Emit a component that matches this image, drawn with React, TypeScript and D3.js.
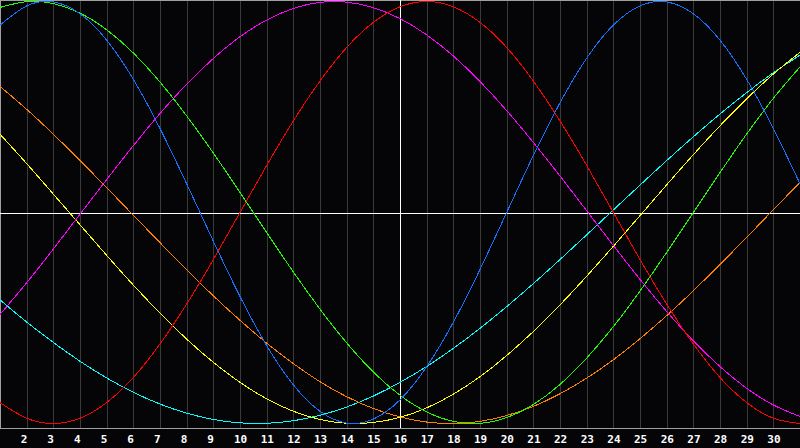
import React, { useEffect, useRef } from 'react';
import * as d3 from 'd3';

// days of the month shown on the chart
const days = d3.range(1, 32);
const tickDays = d3.range(2, 31);
const today = 16;

// cycle values per day (-1 .. 1)
const physical = [0.888, 0.979, 0.998, 0.942, 0.817, 0.631, 0.398, 0.136, -0.136, -0.398, -0.631, -0.817, -0.942, -0.998, -0.979, -0.888, -0.731, -0.52, -0.27, 0, 0.27, 0.52, 0.731, 0.888, 0.979, 0.998, 0.942, 0.817, 0.631, 0.398, 0.136];
const emotional = [-0.901, -0.975, -1, -0.975, -0.901, -0.782, -0.623, -0.434, -0.223, 0, 0.223, 0.434, 0.623, 0.782, 0.901, 0.975, 1, 0.975, 0.901, 0.782, 0.623, 0.434, 0.223, 0, -0.223, -0.434, -0.623, -0.782, -0.901, -0.975, -1];
const intellectual = [0.972, 0.999, 0.99, 0.945, 0.866, 0.756, 0.618, 0.458, 0.282, 0.095, -0.095, -0.282, -0.458, -0.618, -0.756, -0.866, -0.945, -0.99, -0.999, -0.972, -0.91, -0.815, -0.69, -0.541, -0.372, -0.189, 0, 0.189, 0.372, 0.541, 0.69];
const intuitive = [-0.483, -0.333, -0.173, -0.008, 0.156, 0.317, 0.469, 0.608, 0.73, 0.833, 0.912, 0.967, 0.996, 0.997, 0.971, 0.919, 0.842, 0.742, 0.621, 0.483, 0.332, 0.173, 0.008, -0.156, -0.317, -0.469, -0.608, -0.73, -0.833, -0.912, -0.967];
const aesthetic = [0.371, 0.232, 0.087, -0.058, -0.203, -0.344, -0.477, -0.6, -0.71, -0.805, -0.883, -0.942, -0.981, -0.999, -0.995, -0.971, -0.926, -0.861, -0.778, -0.678, -0.564, -0.438, -0.302, -0.16, -0.015, 0.131, 0.274, 0.411, 0.539, 0.656, 0.759];
const awareness = [0.598, 0.489, 0.371, 0.246, 0.118, -0.013, -0.143, -0.271, -0.395, -0.511, -0.619, -0.716, -0.802, -0.873, -0.929, -0.969, -0.993, -1, -0.99, -0.962, -0.919, -0.859, -0.785, -0.698, -0.598, -0.489, -0.371, -0.246, -0.118, 0.013, 0.143];
const spiritual = [-0.414, -0.519, -0.616, -0.705, -0.784, -0.852, -0.908, -0.951, -0.981, -0.997, -0.999, -0.987, -0.961, -0.922, -0.87, -0.805, -0.73, -0.644, -0.549, -0.446, -0.337, -0.223, -0.106, 0.012, 0.13, 0.246, 0.359, 0.467, 0.568, 0.662, 0.746];

const seriesList = [spiritual, awareness, aesthetic, intuitive, intellectual, emotional, physical];
const seriesColors = ['#00ffff', '#ff8000', '#ffff00', '#ff00ff', '#20ff00', '#ff0000', '#1470ff'];

const Biorhythm = () => {
  const svgRef = useRef<SVGSVGElement | null>(null);

  useEffect(() => {
    const width = 800;
    const height = 448;
    const plotBottom = 428;

    const svg = d3.select(svgRef.current)
      .attr('width', width)
      .attr('height', height);
    svg.selectAll('*').remove();

    svg.append('rect')
      .attr('width', width)
      .attr('height', height)
      .attr('fill', '#050407');

    const x = d3.scaleLinear().domain([1, 31]).range([0, width]);
    const y = d3.scaleLinear().domain([-1, 1]).range([423.5, 1.5]);

    // day grid
    svg.append('g')
      .selectAll('line')
      .data(tickDays)
      .enter()
      .append('line')
      .attr('x1', d => Math.round(x(d)) + 0.5)
      .attr('x2', d => Math.round(x(d)) + 0.5)
      .attr('y1', 0)
      .attr('y2', plotBottom)
      .attr('stroke', '#3a3a3a')
      .attr('shape-rendering', 'crispEdges');

    // frame
    svg.append('path')
      .attr('d', `M0.5,${plotBottom + 0.5}V0.5H${width}M0,${plotBottom + 0.5}H${width}`)
      .attr('fill', 'none')
      .attr('stroke', '#a0a0a0')
      .attr('shape-rendering', 'crispEdges');

    // zero line and today marker
    svg.append('line')
      .attr('x1', 0)
      .attr('x2', width)
      .attr('y1', Math.round(y(0)) + 0.5)
      .attr('y2', Math.round(y(0)) + 0.5)
      .attr('stroke', '#ffffff')
      .attr('shape-rendering', 'crispEdges');
    svg.append('line')
      .attr('x1', Math.round(x(today)) + 0.5)
      .attr('x2', Math.round(x(today)) + 0.5)
      .attr('y1', 0)
      .attr('y2', plotBottom)
      .attr('stroke', '#ffffff')
      .attr('shape-rendering', 'crispEdges');

    const line = d3.line<number>()
      .x((d, i) => x(days[i]))
      .y(d => y(d))
      .curve(d3.curveNatural);

    svg.append('g')
      .selectAll('path')
      .data(seriesList)
      .enter()
      .append('path')
      .attr('d', d => line(d))
      .attr('fill', 'none')
      .attr('stroke', (d, i) => seriesColors[i])
      .attr('stroke-width', 1)
      .attr('shape-rendering', 'crispEdges');

    // day labels
    svg.append('g')
      .selectAll('text')
      .data(tickDays)
      .enter()
      .append('text')
      .attr('x', d => x(d) - 6)
      .attr('y', 443)
      .attr('fill', '#ffffff')
      .style('font-family', '"DejaVu Sans Mono", monospace')
      .style('font-size', '11px')
      .style('font-weight', 'bold')
      .text(d => String(d));
  }, []);

  return (
    <svg ref={svgRef} style={{ position: 'absolute', left: 0, top: 0, display: 'block' }}></svg>
  );
};

export default function App() {
  return <Biorhythm />;
}
